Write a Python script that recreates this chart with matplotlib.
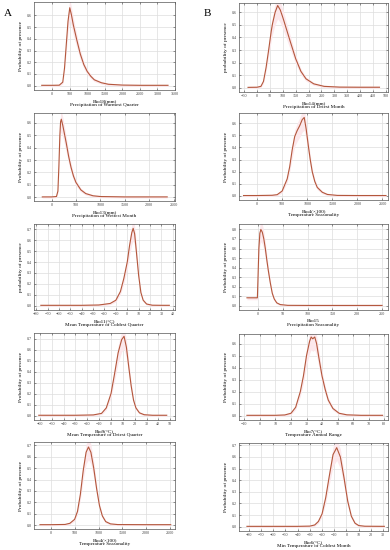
import matplotlib
matplotlib.use('Agg')
import matplotlib.pyplot as plt
import numpy as np

plt.rcParams['font.family'] = ['Liberation Serif', 'DejaVu Serif']

# ---- curve data ----
bio18_x = [-300, 0, 200, 300, 350, 400, 450, 500, 550, 600, 700, 800, 900, 1000, 1100, 1200, 1400, 1600, 2000, 2500, 3000, 3300]
bio18_y = [0.003, 0.003, 0.004, 0.03, 0.15, 0.35, 0.55, 0.665, 0.6, 0.52, 0.39, 0.27, 0.18, 0.12, 0.08, 0.05, 0.025, 0.012, 0.005, 0.003, 0.003, 0.003]

bio14_x = [-35, 0, 15, 25, 35, 45, 55, 60, 70, 80, 90, 100, 115, 130, 150, 170, 190, 220, 260, 320, 400, 475]
bio14_y = [0.002, 0.003, 0.01, 0.05, 0.16, 0.3, 0.45, 0.51, 0.6, 0.655, 0.62, 0.56, 0.46, 0.36, 0.23, 0.13, 0.07, 0.03, 0.01, 0.004, 0.003, 0.003]

bio13_x = [-190, 0, 100, 130, 150, 170, 185, 200, 230, 260, 300, 350, 400, 450, 500, 600, 700, 850, 1000, 1500, 2000, 2370]
bio13_y = [0.003, 0.003, 0.006, 0.05, 0.25, 0.5, 0.61, 0.63, 0.58, 0.52, 0.44, 0.33, 0.24, 0.17, 0.12, 0.06, 0.03, 0.012, 0.006, 0.003, 0.003, 0.003]

bio4b_x = [-270, 0, 300, 400, 500, 600, 650, 700, 750, 800, 850, 900, 940, 980, 1020, 1060, 1100, 1150, 1200, 1300, 1400, 1600, 2000, 2570]
bio4b_y = [0.003, 0.003, 0.005, 0.01, 0.04, 0.14, 0.24, 0.38, 0.49, 0.54, 0.58, 0.63, 0.648, 0.55, 0.42, 0.3, 0.2, 0.12, 0.07, 0.03, 0.012, 0.004, 0.003, 0.003]

bio11_x = [-76, -40, -25, -15, -10, -6, -3, 0, 2, 4, 5.2, 6.5, 8, 10, 12, 14, 17, 22, 30, 37]
bio11_y = [0.003, 0.003, 0.006, 0.02, 0.05, 0.13, 0.25, 0.4, 0.55, 0.67, 0.71, 0.66, 0.5, 0.28, 0.12, 0.05, 0.015, 0.004, 0.003, 0.003]

bio15_x = [-22, -1, 0, 2, 4, 6, 9, 12, 15, 18, 21, 25, 29, 33, 38, 45, 60, 100, 200, 250]
bio15_y = [0.083, 0.083, 0.25, 0.6, 0.76, 0.8, 0.77, 0.7, 0.6, 0.48, 0.37, 0.24, 0.13, 0.07, 0.03, 0.012, 0.004, 0.003, 0.003, 0.003]

bio9_x = [-61, -30, -15, -8, -4, 0, 3, 6, 9, 11, 13, 15, 17, 19, 21, 24, 28, 35, 47]
bio9_y = [0.003, 0.003, 0.006, 0.02, 0.07, 0.2, 0.38, 0.57, 0.69, 0.72, 0.62, 0.44, 0.27, 0.14, 0.07, 0.025, 0.008, 0.003, 0.003]

bio7_x = [-8.4, 10, 16, 20, 23, 26, 28, 30, 32, 33, 34, 35.3, 36.5, 38, 40, 42, 44, 47, 51, 56, 65, 79]
bio7_y = [0.003, 0.003, 0.006, 0.02, 0.07, 0.2, 0.33, 0.5, 0.62, 0.655, 0.64, 0.655, 0.6, 0.48, 0.33, 0.22, 0.13, 0.06, 0.02, 0.007, 0.003, 0.003]

bio4a_x = [-225, 0, 300, 400, 500, 560, 620, 680, 740, 790, 840, 900, 960, 1020, 1080, 1150, 1250, 1400, 2000, 2510]
bio4a_y = [0.003, 0.003, 0.005, 0.015, 0.05, 0.12, 0.27, 0.48, 0.64, 0.686, 0.64, 0.5, 0.32, 0.17, 0.08, 0.03, 0.01, 0.004, 0.003, 0.003]

bio6_x = [-81.5, -40, -30, -26, -23, -20, -17, -14, -11, -8, -5, -2, 1, 4, 7, 10, 15, 31]
bio6_y = [0.003, 0.003, 0.005, 0.015, 0.045, 0.11, 0.25, 0.44, 0.62, 0.68, 0.6, 0.42, 0.22, 0.09, 0.03, 0.01, 0.004, 0.003]

# ---- panel text / ticks ----
panels = [
    # (x, y, var, title, ylabel, xticks, xlim, ytop, ylim, rect px (left, top, right, bottom))
    (bio18_x, bio18_y, 'Bio18(mm)', 'Precipitation of Warmest Quarter', 'Probability of presence',
     np.arange(0, 3501, 500), (-520, 3500), 0.6, (-0.037, 0.714), (34, 2, 175, 90)),
    (bio14_x, bio14_y, 'Bio14(mm)', 'Precipitation of Driest Month', 'probability of presence',
     np.arange(-50, 501, 50), (-70, 508), 0.6, (-0.035, 0.675), (239, 3, 388, 92)),
    (bio13_x, bio13_y, 'Bio13(mm)', 'Precipitation of Wettest Month', 'Probability of presence',
     np.arange(0, 2501, 500), (-360, 2530), 0.6, (-0.03, 0.68), (34, 113, 175, 201)),
    (bio4b_x, bio4b_y, 'Bio4(×100)', 'Temperature Seasonality', 'Probability of presence',
     np.arange(0, 2501, 500), (-360, 2610), 0.6, (-0.034, 0.685), (239, 113, 388, 200)),
    (bio11_x, bio11_y, 'Bio11(°C)', 'Mean Temperature of Coldest Quarter', 'probability of presence',
     np.arange(-80, 41, 10), (-82, 42), 0.7, (-0.04, 0.75), (34, 224, 175, 310)),
    (bio15_x, bio15_y, 'Bio15', 'Precipitation Seasonality', 'Probability of presence',
     np.arange(0, 251, 50), (-38, 262), 0.8, (-0.045, 0.857), (239, 224, 388, 310)),
    (bio9_x, bio9_y, 'Bio9(°C)', 'Mean Temperature of Driest Quarter', 'Probability of presence',
     np.arange(-60, 51, 10), (-65, 54), 0.7, (-0.04, 0.75), (34, 333, 175, 420)),
    (bio7_x, bio7_y, 'Bio7(°C)', 'Temperature Annual Range', 'Probability of presence',
     np.arange(-10, 81, 10), (-13.5, 82.5), 0.6, (-0.036, 0.68), (239, 334, 388, 420)),
    (bio4a_x, bio4a_y, 'Bio4(×100)', 'Temperature Seasonality', 'Probability of presence',
     np.arange(0, 2501, 500), (-350, 2600), 0.7, (-0.035, 0.73), (34, 442, 175, 529)),
    (bio6_x, bio6_y, 'Bio6(°C)', 'Min Temperature of Coldest Month', 'Probability of presence',
     np.arange(-80, 31, 10), (-88, 34), 0.7, (-0.037, 0.72), (239, 443, 388, 531)),
]

W, H = 390, 550
fig = plt.figure(figsize=(W / 100, H / 100), dpi=100)

line_col = '#b3573c'
band_col = '#fce8ec'

for x, y, var, title, ylab, xt, xl, ytop, yl, (l, t, r, b) in panels:
    ax = fig.add_axes([l / W, 1 - b / H, (r - l) / W, (b - t) / H])
    x = np.array(x)
    y = np.array(y)
    ax.fill_between(x, y * 0.85 - 0.008, y * 1.1 + 0.008, color=band_col, lw=0, zorder=1)
    ax.plot(x, y, color=line_col, lw=0.8, zorder=3)
    ax.set_xlim(*xl)
    ax.set_ylim(*yl)
    ax.set_xticks(xt)
    ax.set_yticks(np.round(np.arange(0, ytop + 0.001, 0.1), 1))
    ax.set_yticklabels([f'{v:.1f}' for v in np.arange(0, ytop + 0.001, 0.1)])
    ax.grid(True, color='#dddddd', lw=0.5, zorder=0)
    ax.set_axisbelow(True)
    ax.tick_params(labelsize=3, length=1.2, width=0.4, direction='in', pad=1.5,
                   top=True, right=True, colors='#444444')
    for s in ax.spines.values():
        s.set_linewidth(0.5)
        s.set_color('#555555')
    ax.set_xlabel(var + '\n' + title, fontsize=3.7, labelpad=2, linespacing=1.05)
    ax.set_ylabel(ylab, fontsize=3.9, labelpad=3)

fig.text(8 / W, 1 - 13 / H, 'A', fontsize=8, ha='center', va='center')
fig.text(207 / W, 1 - 13 / H, 'B', fontsize=8, ha='center', va='center')

fig.savefig('out.png', dpi=100)
